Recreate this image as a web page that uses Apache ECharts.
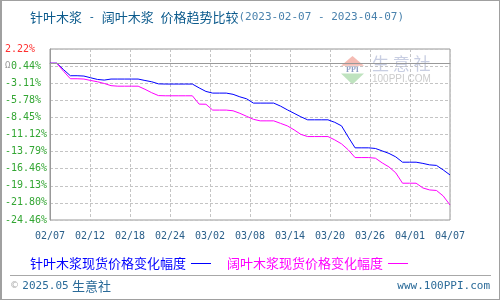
<!DOCTYPE html>
<html><head><meta charset="utf-8">
<script src="https://cdn.jsdelivr.net/npm/echarts@6/dist/echarts.min.js"></script>
<style>
html,body{margin:0;padding:0;background:#fff}
#wrap{position:relative;width:500px;height:300px}
#c{width:500px;height:300px}
#f{position:absolute;left:0;top:0;width:500px;height:300px;box-sizing:border-box;border:1px solid #a0a0a0;border-left:2px solid #a0a0a0;pointer-events:none}
</style>
</head><body><div id="wrap"><div id="c"></div><div id="f"></div></div>
<script>
// x tick labels (evenly spaced, 60 daily points 02/07 .. 04/07)
var xLabels = ['02/07','02/12','02/18','02/24','03/02','03/08','03/14','03/20','03/26','04/01','04/07'];
// y tick labels, top to bottom
var yLabels = ['2.22%','0.44%','-3.11%','-5.78%','-8.45%','-11.12%','-13.79%','-16.46%','-19.13%','-21.80%','-24.46%'];
var seriesNames = ['针叶木浆现货价格变化幅度','阔叶木浆现货价格变化幅度'];
// daily change (%) vs 2023-02-07
var softwood = [0,0,-1.0,-1.95,-1.95,-2.0,-2.27,-2.53,-2.63,-2.47,-2.47,-2.47,-2.47,-2.47,-2.69,-2.89,-3.22,-3.25,-3.25,-3.25,
  -3.25,-3.25,-3.85,-4.4,-4.66,-4.66,-4.66,-4.85,-5.24,-5.55,-6.22,-6.22,-6.22,-6.22,-6.69,-7.27,-7.81,-8.36,-8.83,-8.83,
  -8.83,-8.83,-9.22,-9.77,-11.53,-13.2,-13.2,-13.2,-13.3,-13.68,-14.07,-14.61,-15.44,-15.44,-15.44,-15.63,-15.86,-15.94,-16.65,-17.43];
var hardwood = [0,0,-1.25,-2.42,-2.42,-2.47,-2.69,-2.89,-3.16,-3.5,-3.58,-3.58,-3.58,-3.58,-4.06,-4.6,-5.05,-5.08,-5.08,-5.08,
  -5.08,-5.08,-6.38,-6.4,-7.31,-7.31,-7.31,-7.42,-7.81,-8.28,-8.75,-8.99,-8.99,-8.99,-9.38,-9.77,-10.39,-11.1,-11.44,-11.44,
  -11.44,-11.44,-11.96,-12.58,-13.52,-14.72,-14.72,-14.72,-14.82,-15.55,-16.18,-17.1,-18.72,-18.72,-18.72,-19.46,-19.77,-19.85,-20.71,-22.12];

var Y_MIN = -24.46, Y_MAX = 2.22, Y_STEP = 2.668;
var X_MAX = softwood.length - 1, X_STEP = X_MAX / (xLabels.length - 1);
function pairs(arr){ return arr.map(function(v,i){ return [i, v]; }); }

var mono = 'DejaVu Sans Mono';
var cjk = 'Noto Sans CJK SC';
var chart = echarts.init(document.getElementById('c'), null, {renderer:'canvas'});
chart.setOption({
  animation:false,
  backgroundColor:'#fff',
  title:{
    left:25, top:6,
    text:'{c|针叶木浆}{m| - }{c|阔叶木浆}{m| }{c|价格趋势比较}{d|(2023-02-07 - 2023-04-07)}',
    textStyle:{fontWeight:'normal',rich:{
      c:{fontFamily:cjk,fontSize:13,fontWeight:'normal',color:'#0b5a8c'},
      m:{fontFamily:mono,fontSize:11,fontWeight:'normal',color:'#0b5a8c'},
      d:{fontFamily:mono,fontSize:11,fontWeight:'normal',color:'#4a82ad'}
    }}
  },
  grid:{left:50,right:50,top:49,bottom:80,show:true,borderColor:'#999',borderWidth:1,backgroundColor:'transparent'},
  xAxis:{
    type:'value', min:0, max:X_MAX, interval:X_STEP,
    axisLine:{show:true,lineStyle:{color:'#999'}},
    axisTick:{show:false},
    splitLine:{show:true,lineStyle:{color:'#c4c4c4',type:[3,2],width:1}},
    axisLabel:{margin:11,fontFamily:mono,fontSize:10,color:'#2a5f8a',showMinLabel:true,showMaxLabel:true,
      formatter:function(v){ return xLabels[Math.round(v / X_STEP)] || ''; }}
  },
  yAxis:{
    type:'value', min:Y_MIN, max:Y_MAX, interval:Y_STEP,
    axisLine:{show:true,lineStyle:{color:'#999'}},
    axisTick:{show:false},
    splitLine:{show:true,lineStyle:{color:'#c4c4c4',type:[3,2],width:1}},
    axisLabel:{margin:45,align:'left',showMinLabel:true,showMaxLabel:true,
      formatter:function(v){
        var k = Math.round((Y_MAX - v) / Y_STEP);
        var t = yLabels[k] || '';
        if (k === 0) return '{r|' + t + '}';
        if (k === 1) return '{ic|Ω}{g|' + t + '}';
        return '{g|' + t + '}';
      },
      rich:{
        r:{fontFamily:mono,fontSize:10,color:'#ff3030'},
        g:{fontFamily:mono,fontSize:10,color:'#33a633'},
        ic:{fontFamily:mono,fontSize:9,color:'#9a9a9a',width:6}
      }}
  },
  legend:{
    left:25, top:252, align:'right', itemWidth:20, itemHeight:1, itemGap:16, icon:'rect',
    textStyle:{fontFamily:cjk,fontSize:13},
    data:[
      {name:seriesNames[0], textStyle:{color:'#0000ff'}},
      {name:seriesNames[1], textStyle:{color:'#ff00ff'}}
    ]
  },
  series:[
    {name:seriesNames[0], type:'line', data:pairs(softwood), symbol:'none', lineStyle:{color:'#0000ff',width:1}, itemStyle:{color:'#0000ff'},
      markLine:{silent:true,symbol:'none',label:{show:false},lineStyle:{color:'#999',type:'solid',width:1},data:[{yAxis:0}]}},
    {name:seriesNames[1], type:'line', data:pairs(hardwood), symbol:'none', lineStyle:{color:'#ff00ff',width:1}, itemStyle:{color:'#ff00ff'}}
  ],
  graphic:[
    {type:'group', z:-10, silent:true, children:[
      {type:'polygon', shape:{points:[[341,65.7],[352.5,56],[364,65.7]]}, style:{fill:'#f5bcb4'}},
      {type:'polygon', shape:{points:[[341,73.5],[364,73.5],[352.5,84.5]]}, style:{fill:'#bfe3bf'}},
      {type:'text', style:{x:352.5,y:69.7,text:'PPI',fontFamily:'Liberation Serif',fontSize:8,fontWeight:'bold',fill:'#8d9cc4',align:'center',verticalAlign:'middle'}},
      {type:'text', style:{x:372,y:64,text:'生 意 社',fontFamily:cjk,fontSize:17,fill:'#c8cee2',verticalAlign:'middle'}},
      {type:'text', style:{x:372,y:79.5,text:'100PPI.COM',fontFamily:'Liberation Sans',fontSize:10,fill:'#cccccc',verticalAlign:'middle'}}
    ]},
    {type:'line', silent:true, shape:{x1:10,y1:275.5,x2:491,y2:275.5}, style:{stroke:'#a8a8a8',lineWidth:1}},
    {type:'text', silent:true, style:{x:10,y:286,text:'{a|©} {b|2025.05} {c|生意社}',verticalAlign:'middle',
      rich:{a:{fontFamily:'DejaVu Sans',fontSize:9,fill:'#a8a8a8'},b:{fontFamily:mono,fontSize:11,fill:'#2b6b99'},c:{fontFamily:cjk,fontSize:13,fill:'#2b6b99'}}}},
    {type:'text', silent:true, style:{x:490,y:286,text:'www.100PPI.com',align:'right',verticalAlign:'middle',fontFamily:mono,fontSize:11,fill:'#2b6b99'}}
  ]
});
</script></body></html>
